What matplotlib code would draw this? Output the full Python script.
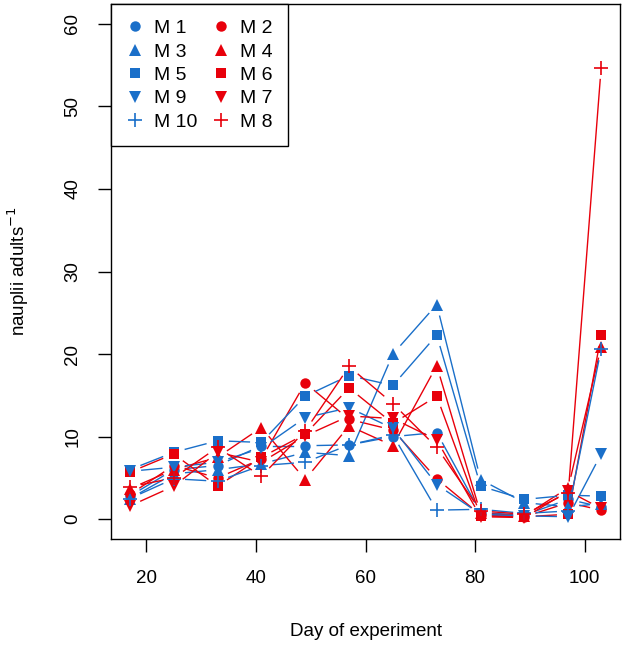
import numpy as np
import matplotlib
matplotlib.use("Agg")
import matplotlib.pyplot as plt

plt.rcParams['font.family'] = ['Liberation Sans', 'DejaVu Sans']

# sampling days
days = [17, 25, 33, 41, 49, 57, 65, 73, 81, 89, 97, 103]

# nauplii per adult
M1 = [2.8, 6.0, 6.5, 8.9, 8.9, 9.0, 10.0, 10.5, 0.8, 0.5, 2.4, 1.5]
M2 = [3.0, 6.5, 5.0, 7.3, 16.5, 12.1, 10.8, 4.9, 0.5, 0.3, 2.0, 1.1]
M3 = [2.5, 5.5, 6.0, 6.7, 8.1, 7.7, 20.0, 26.0, 4.8, 2.0, 1.5, 1.9]
M4 = [3.7, 6.0, 7.5, 11.1, 4.8, 11.3, 8.9, 18.6, 0.7, 0.4, 3.8, 20.9]
M5 = [6.0, 8.1, 9.5, 9.3, 14.9, 17.4, 16.2, 22.3, 4.0, 2.4, 2.9, 2.8]
M6 = [5.7, 7.9, 4.0, 7.5, 10.3, 15.9, 11.6, 14.9, 0.4, 0.3, 0.6, 22.3]
M7 = [1.6, 4.0, 8.1, 6.9, 10.1, 12.5, 12.2, 9.6, 0.3, 0.2, 3.4, 1.3]
M8 = [3.9, 5.0, 8.7, 5.2, 10.7, 18.5, 14.0, 8.7, 1.0, 0.6, 3.2, 54.7]
M9 = [5.8, 6.3, 6.9, 8.6, 12.3, 13.5, 11.0, 4.2, 0.6, 0.4, 0.3, 7.9]
M10 = [2.5, 4.9, 4.6, 6.5, 6.9, 9.0, 10.2, 1.1, 1.2, 0.7, 1.0, 20.6]

blue = '#1a6fc9'
red = '#e8000b'

# name, values, colour, marker, size
series = [
    ('M 1', M1, blue, 'o', 7.5),
    ('M 2', M2, red, 'o', 7.5),
    ('M 3', M3, blue, '^', 9),
    ('M 4', M4, red, '^', 9),
    ('M 5', M5, blue, 's', 7.5),
    ('M 6', M6, red, 's', 7.5),
    ('M 9', M9, blue, 'v', 9),
    ('M 7', M7, red, 'v', 9),
    ('M 10', M10, blue, '+', 10),
    ('M 8', M8, red, '+', 10),
]

fig = plt.figure(figsize=(6.25, 6.45), dpi=100)
ax = fig.add_axes([0.1776, 0.1643, 0.8144, 0.8295])

xr = max(days) - min(days)
ax.set_xlim(min(days) - 0.04 * xr, max(days) + 0.04 * xr)
ax.set_ylim(-0.04 * 60, 60 + 0.04 * 60)

gap = 12.0  # pixels left open round each point, like R type="b"
handles = {}
for name, vals, col, mk, ms in series:
    pts = ax.transData.transform(np.column_stack([days, vals]))
    for i in range(len(pts) - 1):
        p0, p1 = pts[i], pts[i + 1]
        d = np.hypot(*(p1 - p0))
        if d <= 2 * gap:
            continue
        u = (p1 - p0) / d
        seg = ax.transData.inverted().transform([p0 + u * gap, p1 - u * gap])
        ax.plot(seg[:, 0], seg[:, 1], color=col, lw=1.0)
    h, = ax.plot(days, vals, linestyle='none', marker=mk, ms=ms, color=col,
                 mew=1.2 if mk == '+' else 0, label=name)
    handles[name] = h

order = ['M 1', 'M 3', 'M 5', 'M 9', 'M 10', 'M 2', 'M 4', 'M 6', 'M 7', 'M 8']
leg = ax.legend([handles[n] for n in order], order, ncol=2, loc='upper left',
                borderaxespad=0, fontsize=14, fancybox=False, framealpha=1,
                edgecolor='black', handlelength=0.9, handletextpad=0.5,
                columnspacing=0.8, labelspacing=0.3, borderpad=0.8)
leg.get_frame().set_linewidth(1.0)

ax.set_xticks([20, 40, 60, 80, 100])
ax.set_yticks([0, 10, 20, 30, 40, 50, 60])
ax.tick_params(direction='out', length=9.5, width=1, labelsize=13.5)
ax.tick_params(axis='x', pad=13)
ax.tick_params(axis='y', pad=12)
for lab in ax.get_yticklabels():
    lab.set_rotation(90)
    lab.set_va('center')
for s in ax.spines.values():
    s.set_linewidth(1.0)

ax.set_xlabel('Day of experiment', fontsize=13.5, labelpad=26)
ax.set_ylabel('nauplii adults$^{-1}$', fontsize=13.5, labelpad=24)

fig.savefig('out.png', dpi=100)
